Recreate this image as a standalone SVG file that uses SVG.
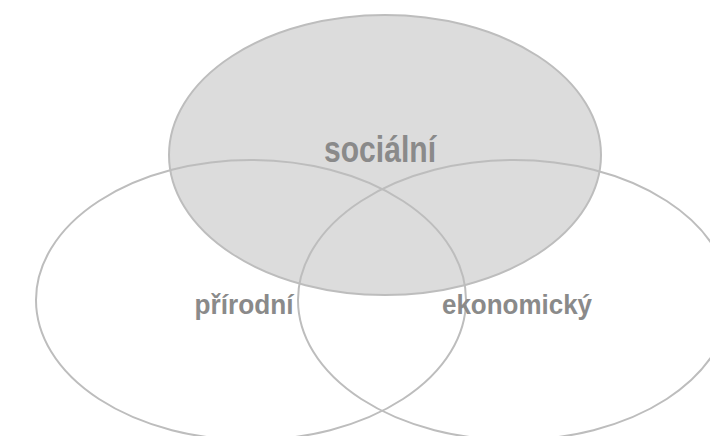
<svg xmlns="http://www.w3.org/2000/svg" width="710" height="436" viewBox="0 0 710 436">
<style>
.set{fill:none;stroke:#bdbdbd;stroke-width:2}
.lbl{font-family:"Liberation Sans Narrow","Liberation Sans",Arial,sans-serif;font-weight:bold;fill:#8a8a8a;text-anchor:middle}
</style>
<rect width="710" height="436" fill="#ffffff"/>
<g id="socialni">
<ellipse cx="385" cy="155" rx="216" ry="140" fill="#dcdcdc" stroke="#bdbdbd" stroke-width="2"/>
</g>
<g id="prirodni">
<ellipse class="set" cx="251" cy="300" rx="215" ry="140"/>
</g>
<g id="ekonomicky">
<ellipse class="set" cx="514" cy="300" rx="216" ry="140"/>
</g>
<g id="labels">
<text class="lbl" x="380" y="162" font-size="36" textLength="112" lengthAdjust="spacingAndGlyphs">sociální</text>
<text class="lbl" x="244" y="314" font-size="28" textLength="99" lengthAdjust="spacingAndGlyphs">přírodní</text>
<text class="lbl" x="517" y="314" font-size="28" textLength="150" lengthAdjust="spacingAndGlyphs">ekonomický</text>
</g>
</svg>
